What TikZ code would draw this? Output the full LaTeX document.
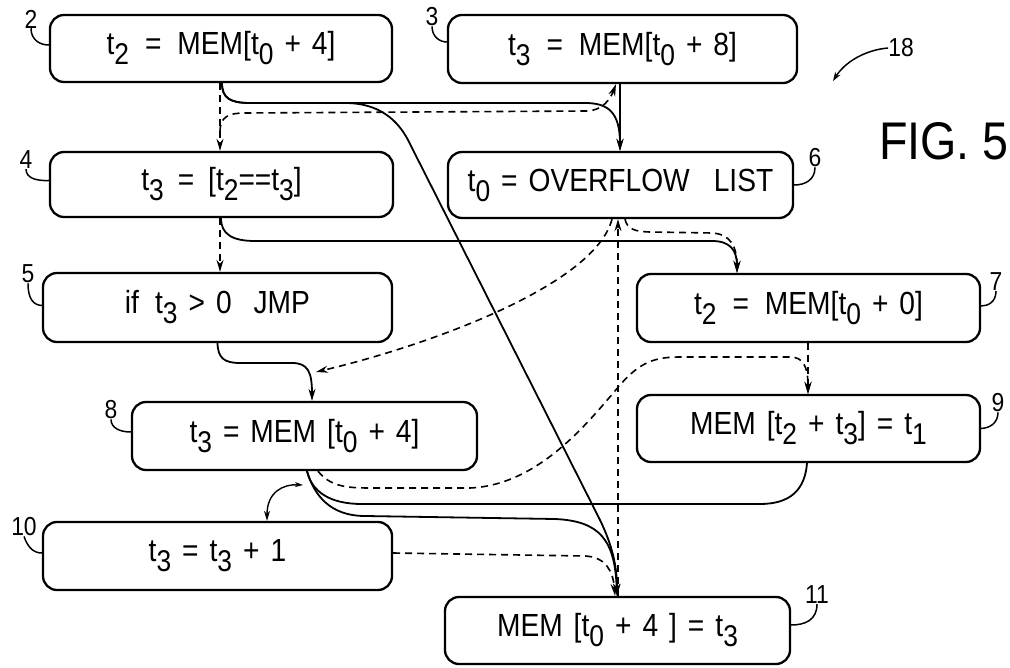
\documentclass[tikz,border=0pt]{standalone}
\usepackage{fontspec}
\setmainfont{Liberation Sans}[FakeStretch=0.88]
\usetikzlibrary{arrows.meta}
\newcommand{\dsub}[1]{\raisebox{-10pt}{\fontsize{30}{30}\selectfont #1}}
\newcommand{\wsp}{\spaceskip=11pt\relax}
\begin{document}
\begin{tikzpicture}[x=1pt,y=-1pt,
  box/.style={draw=black, line width=2.3pt, rounded corners=14pt, inner sep=0pt,
    font=\fontsize{32}{32}\selectfont\wsp},
  sol/.style={line width=1.8pt},
  das/.style={line width=1.6pt, dash pattern=on 7pt off 5pt},
  arr/.style={-{Stealth[length=12pt,width=7pt]}},
  lab/.style={font=\fontsize{26}{26}\selectfont, inner sep=0pt},
  lead/.style={line width=1.5pt}]
\useasboundingbox (0,0) rectangle (1010,668);

% boxes
\node[box, minimum width=342pt, minimum height=67pt] (N2) at (221,48.5) {t\dsub{2}\hspace{16pt}=\hspace{16pt}MEM[t\dsub{0} + 4]};
\node[box, minimum width=349pt, minimum height=68pt] (N3) at (622.5,49) {t\dsub{3}\hspace{16pt}=\hspace{16pt}MEM[t\dsub{0} + 8]};
\node[box, minimum width=343pt, minimum height=65pt] (N4) at (221.5,184.5) {t\dsub{3}\hspace{14pt}=\hspace{14pt}[t\dsub{2}==t\dsub{3}]};
\node[box, minimum width=345pt, minimum height=66pt] (N6) at (620.5,185) {t\dsub{0} = OVERFLOW\hspace{24pt}LIST};
\node[box, minimum width=349pt, minimum height=69pt] (N5) at (217.5,307.5) {if\hspace{16pt}t\dsub{3} > 0\hspace{22pt}JMP};
\node[box, minimum width=343pt, minimum height=68pt] (N7) at (808.5,308) {t\dsub{2}\hspace{16pt}=\hspace{16pt}MEM[t\dsub{0} + 0]};
\node[box, minimum width=345pt, minimum height=68pt] (N8) at (304.5,436) {t\dsub{3} = MEM [t\dsub{0} + 4]};
\node[box, minimum width=343pt, minimum height=67pt] (N9) at (808.5,428.5) {MEM [t\dsub{2} + t\dsub{3}] = t\dsub{1}};
\node[box, minimum width=349pt, minimum height=68pt] (N10) at (217.5,556) {t\dsub{3} = t\dsub{3} + 1};
\node[box, minimum width=345pt, minimum height=67pt] (N11) at (617.5,630.5) {MEM [t\dsub{0} + 4 ] = t\dsub{3}};

% free ends
\coordinate (j4) at (220,132);
\coordinate (e8) at (316,372);
\coordinate (da) at (303,485);
\coordinate (t18) at (833,81);

% solid connectors
\draw[sol,arr] ([xshift=-2.5pt]N3.south) -- ([xshift=-0.5pt]N6.north);
\draw[sol,arr] ([xshift=1pt]N2.south) .. controls (222,98) and (230,103) .. (250,103) -- (585,103) .. controls (608,103) and (620,112) .. ([xshift=-0.5pt]N6.north);
\draw[sol,arr] ([xshift=1pt]N2.south) .. controls (222,98) and (230,103) .. (250,103) -- (345,103) .. controls (380,103) and (398,121) .. (408,140) -- (600,520) .. controls (612,545) and (617,565) .. ([xshift=-0.5pt]N11.north);
\draw[sol,arr] ([xshift=-0.5pt]N4.south) .. controls (221,234) and (232,241) .. (255,241) -- (712,241) .. controls (730,241) and (737,250) .. ([xshift=-71.5pt]N7.north);
\draw[sol,arr] (N5.south) .. controls (218,358) and (224,363) .. (240,363) -- (292,363) .. controls (308,363) and (312,372) .. ([xshift=7.5pt]N8.north);
\draw[sol] ([xshift=-1.5pt]N9.south) .. controls (805,490) and (790,504) .. (760,504) -- (362,504) .. controls (330,504) and (312,492) .. ([xshift=2.5pt]N8.south);
\draw[sol,arr] ([xshift=2.5pt]N8.south) .. controls (314,495) and (330,516) .. (365,516) -- (555,519) .. controls (600,521) and (615,540) .. ([xshift=-0.5pt]N11.north);
\draw[line width=1.4pt, {Stealth[length=8pt,width=5pt]}-{Stealth[length=10pt,width=6pt]}] (da) .. controls (283,484) and (267,492) .. ([xshift=49.5pt]N10.north);

% dashed connectors
\draw[das,arr] ([xshift=-1pt]N2.south) -- ([xshift=-1.5pt]N4.north);
\draw[das,arr] (j4) .. controls (220,117) and (228,113) .. (245,113) -- (588,111) .. controls (602,110) and (610,100) .. ([xshift=-6.5pt]N3.south);
\draw[das,arr] ([xshift=-1.5pt]N4.south) -- ([xshift=2.5pt]N5.north);
\draw[das,arr] ([xshift=4.5pt]N6.south) .. controls (627,229) and (635,232) .. (652,232) -- (712,233) .. controls (730,234) and (737,246) .. ([xshift=-71.5pt]N7.north);
\draw[das,arr] ([xshift=-8.5pt]N6.south) .. controls (595,285) and (430,345) .. (e8);
\draw[das,arr] ([xshift=0.5pt]N11.north) -- ([xshift=-2.5pt]N6.south);
\draw[das,arr] ([xshift=-0.5pt]N7.south) -- ([xshift=-0.5pt]N9.north);
\draw[das,arr] ([xshift=13.5pt]N8.south) .. controls (330,486) and (345,488) .. (370,488) -- (470,488) .. controls (540,485) and (590,420) .. (620,385) .. controls (640,362) and (655,357) .. (680,357) -- (790,357) .. controls (803,357) and (808,366) .. ([xshift=-0.5pt]N9.north);
\draw[das,arr] ([yshift=3pt]N10.east) -- (585,556) .. controls (605,557) and (613,570) .. ([xshift=-2.5pt]N11.north);

% reference labels
\node[lab] (L2) at (31,19) {2};
\node[lab] (L3) at (432,17) {3};
\node[lab] (L4) at (26,160) {4};
\node[lab] (L5) at (28,274) {5};
\node[lab] (L8) at (111,410) {8};
\node[lab] (L10) at (24,527) {10};
\node[lab] (L6) at (815,158) {6};
\node[lab] (L7) at (996,282) {7};
\node[lab] (L9) at (998,403) {9};
\node[lab] (L11) at (817,595) {11};
\node[lab] (L18) at (901,48) {18};
\node[font=\fontsize{53}{53}\selectfont, inner sep=0pt] (FIG) at (944,141) {FIG. 5};

\draw[lead] (L2.south) .. controls (31,40) and (40,45) .. ([yshift=3.5pt]N2.west);
\draw[lead] (L3.south) .. controls (432,37) and (440,42) .. ([yshift=7pt]N3.west);
\draw[lead] (L4.south) .. controls (26,178) and (36,181) .. ([yshift=4pt]N4.west);
\draw[lead] (L5.south) .. controls (28,300) and (34,305) .. ([yshift=2pt]N5.west);
\draw[lead] (L8.south) .. controls (111,428) and (120,432) .. ([yshift=4pt]N8.west);
\draw[lead] (L10.south) .. controls (28,548) and (34,553) .. ([yshift=3pt]N10.west);
\draw[lead] (L6.south) .. controls (815,180) and (805,185) .. (N6.east);
\draw[lead] (L7.south) .. controls (996,302) and (988,306) .. ([yshift=2pt]N7.east);
\draw[lead] (L9.south) .. controls (998,423) and (990,428) .. (N9.east);
\draw[lead] (L11.south) .. controls (817,620) and (805,625) .. ([yshift=5.5pt]N11.east);
\draw[lead,-{Stealth[length=9pt,width=6pt]}] (L18.west) .. controls (865,50) and (845,62) .. (t18);
\end{tikzpicture}
\end{document}
